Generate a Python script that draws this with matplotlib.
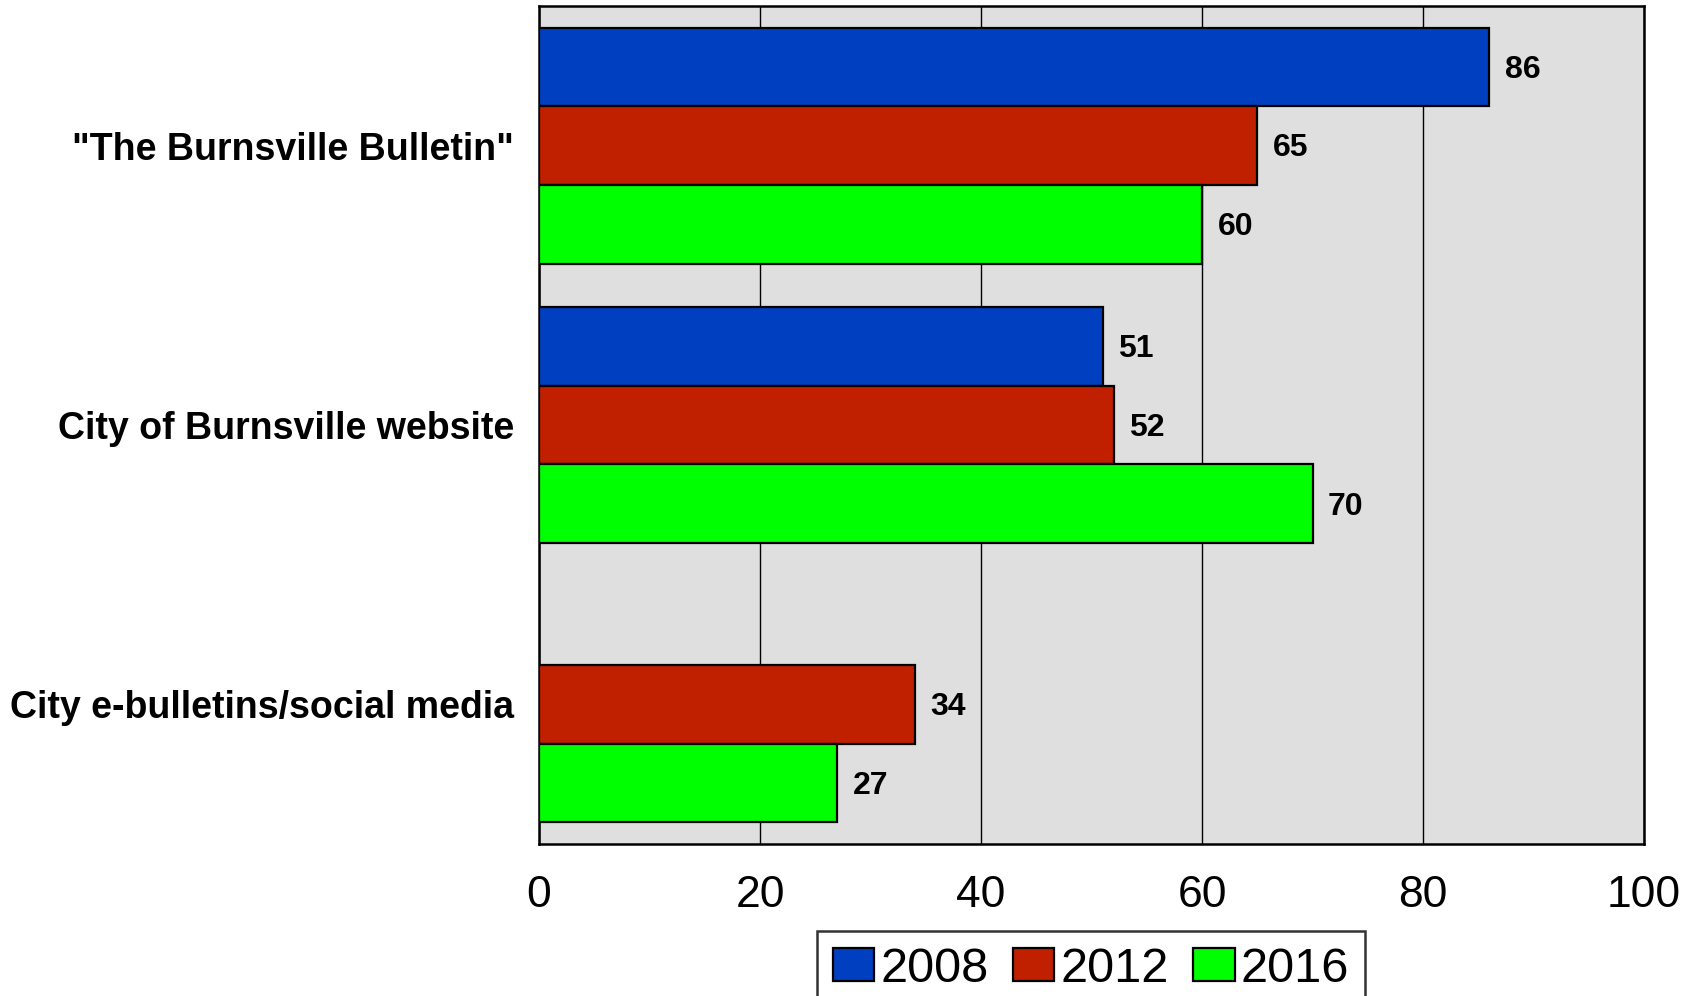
import numpy as np
import matplotlib

matplotlib.use("Agg")
import matplotlib.pyplot as plt

plt.rcParams["font.family"] = ["Liberation Sans", "DejaVu Sans"]

categories = ['"The Burnsville Bulletin"', "City of Burnsville website",
              "City e-bulletins/social media"]
years = ["2008", "2012", "2016"]
values_2008 = [86, 51, np.nan]
values_2012 = [65, 52, 34]
values_2016 = [60, 70, 27]
colors = ["#0040C0", "#C02000", "#00FF00"]
xticks = [0, 20, 40, 60, 80, 100]

fig = plt.figure(figsize=(17, 9.96), dpi=100)
ax = fig.add_axes([539 / 1700, 1 - 844 / 996, 1105 / 1700, 838 / 996])
ax.set_facecolor("#DFDFDF")

y = np.arange(len(categories))
h = 0.282
series = [values_2008, values_2012, values_2016]
for i, (vals, col, yr) in enumerate(zip(series, colors, years)):
    pos = y + (i - 1) * h
    ax.barh(pos, vals, height=h, color=col, edgecolor="black",
            linewidth=1.6, label=yr, zorder=3)
    for p, v in zip(pos, vals):
        if np.isnan(v):
            continue
        ax.text(v + 1.4, p + 0.01, f"{v:g}", va="center", ha="left",
                fontsize=23, fontweight="bold", zorder=4)

ax.set_xlim(0, 100)
ax.set_ylim(2.5, -0.5)
ax.set_xticks(xticks)
ax.set_xticklabels([str(t) for t in xticks], fontsize=32)
ax.set_yticks(y)
ax.set_yticklabels(categories, fontsize=27, fontweight="bold")
ax.tick_params(axis="x", length=0, pad=22)
ax.tick_params(axis="y", length=0, pad=18)
ax.grid(axis="x", color="black", linewidth=1.0, zorder=1)
for s in ax.spines.values():
    s.set_linewidth(1.8)

leg = fig.legend(loc="upper center", bbox_to_anchor=(1091 / 1700, 1 - 931 / 996),
                 ncol=3, fontsize=35, frameon=True, fancybox=False,
                 edgecolor="black", handlelength=0.85, handleheight=0.65,
                 handletextpad=0.13, columnspacing=0.5, borderpad=0.32,
                 borderaxespad=0)
leg.get_frame().set_linewidth(1.8)

fig.savefig("out.png", dpi=100)
